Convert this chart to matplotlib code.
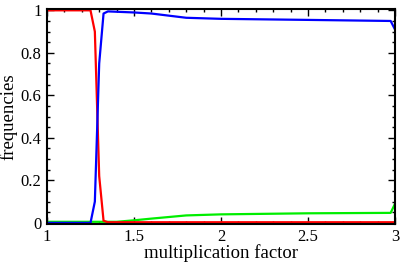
import numpy as np
import matplotlib.pyplot as plt
from matplotlib.ticker import MultipleLocator

plt.rcParams["font.family"] = ["Liberation Serif", "DejaVu Serif"]

# multiplication factor samples and the three strategy frequencies
x_red = [1.0, 1.25, 1.275, 1.3, 1.325, 1.35, 1.5, 2.0, 2.5, 2.975, 3.0]
red = [1.0, 1.0, 0.9, 0.22, 0.01, 0.003, 0.003, 0.003, 0.003, 0.003, 0.003]

x_blue = [1.0, 1.25, 1.275, 1.3, 1.325, 1.35, 1.5, 1.6, 1.8, 2.0, 2.5, 2.975, 3.0]
blue = [0.0, 0.0, 0.1, 0.75, 0.985, 0.995, 0.99, 0.985, 0.965, 0.96, 0.955, 0.95, 0.91]

x_green = [1.0, 1.4, 1.5, 1.6, 1.8, 2.0, 2.5, 2.975, 3.0]
green = [0.005, 0.005, 0.012, 0.02, 0.035, 0.04, 0.045, 0.047, 0.09]

fig = plt.figure(figsize=(4.0, 2.65), dpi=100)
ax = fig.add_axes([0.1175, 0.155, 0.87, 0.81])

ax.plot(x_green, green, color="#00ee00", lw=1.6)
ax.plot(x_red, red, color="#ff0000", lw=1.6)
ax.plot(x_blue, blue, color="#0000ff", lw=1.6)

ax.set_xlim(1, 3)
ax.set_ylim(-0.005, 1.005)
ax.set_xticks([1, 1.5, 2, 2.5, 3])
ax.set_xticklabels(["1", "1.5", "2", "2.5", "3"])
ax.set_yticks([0, 0.2, 0.4, 0.6, 0.8, 1])
ax.set_yticklabels(["0", "0.2", "0.4", "0.6", "0.8", "1"])
ax.xaxis.set_minor_locator(MultipleLocator(0.1))
ax.yaxis.set_minor_locator(MultipleLocator(0.05))
ax.tick_params(which="both", direction="in", top=True, right=True, labelsize=12, width=1.0, pad=4)
ax.tick_params(which="major", length=5)
ax.tick_params(which="minor", length=2.5)
for s in ax.spines.values():
    s.set_linewidth(1.5)

ax.set_xlabel("multiplication factor", fontsize=13.5, labelpad=-1)
ax.set_ylabel("frequencies", fontsize=13.5, labelpad=2)

fig.savefig("out.png", dpi=100)
